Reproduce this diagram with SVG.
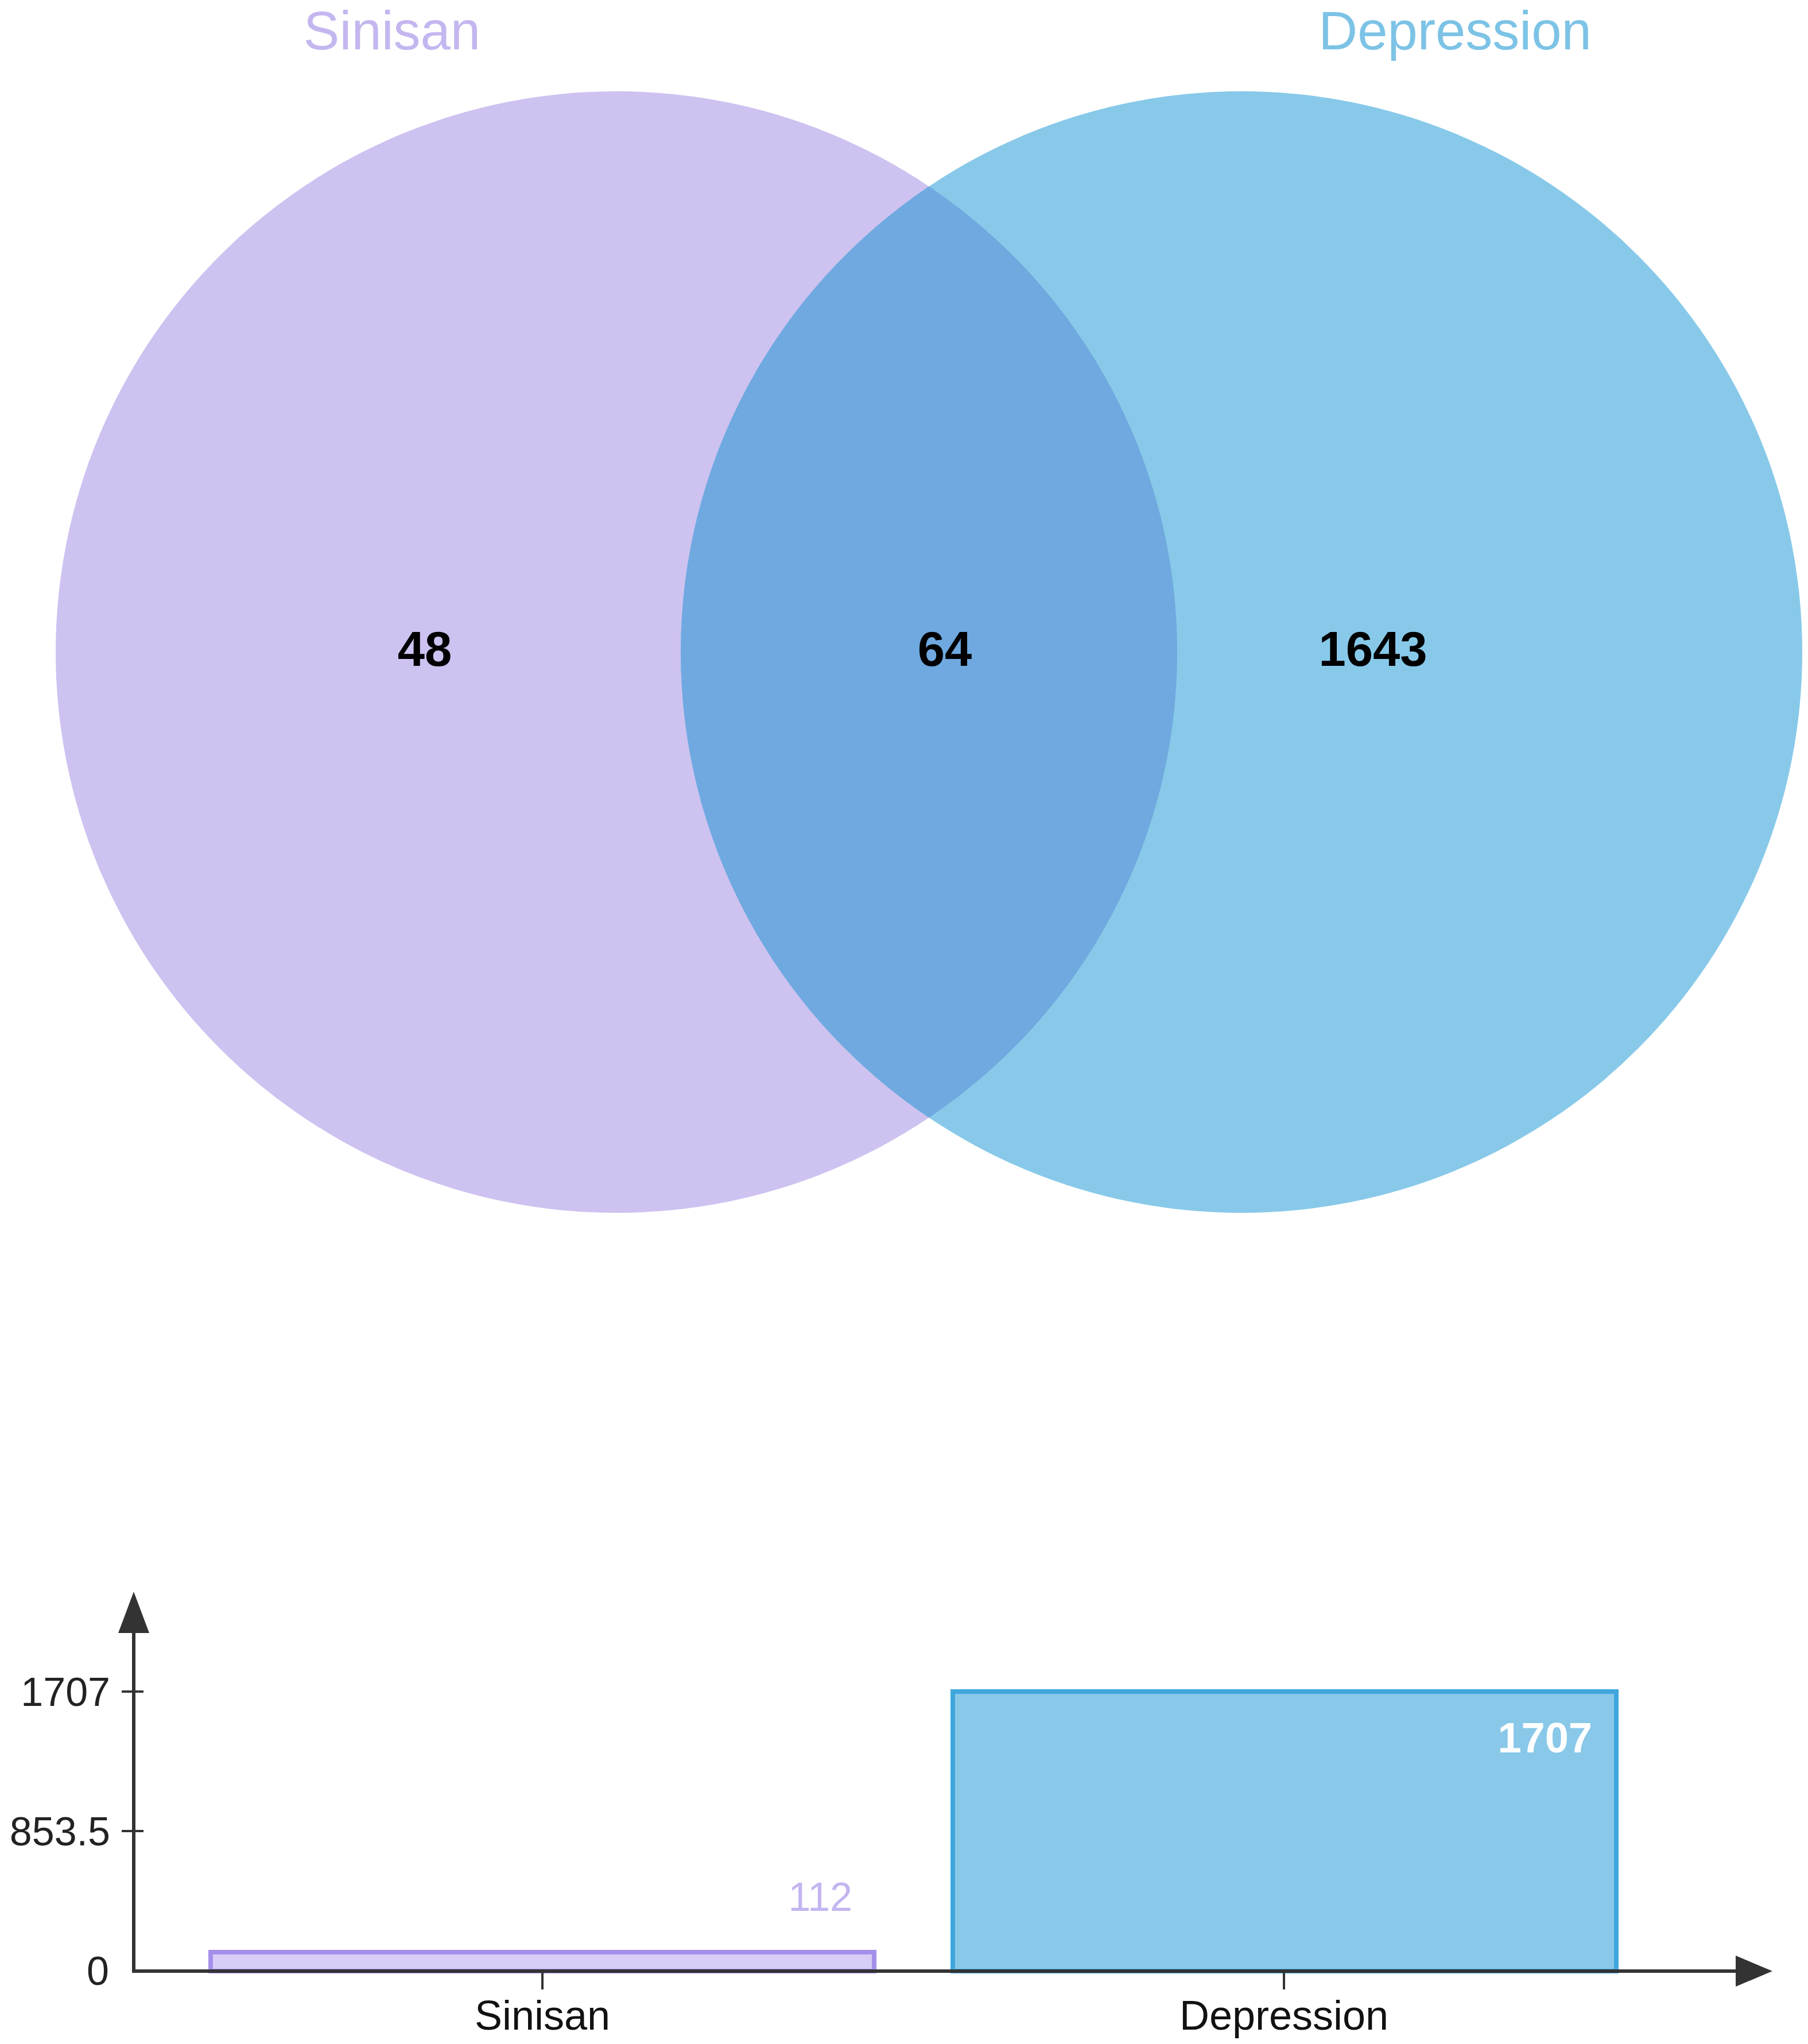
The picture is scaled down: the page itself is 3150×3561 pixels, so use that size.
<svg xmlns="http://www.w3.org/2000/svg" width="3150" height="3561" viewBox="0 0 3150 3561">
<defs>
<style>
.t{font-family:"Liberation Sans",Arial,sans-serif}
.num{font-size:85px;font-weight:bold;fill:#000;text-anchor:middle}
.ax{stroke:#333;stroke-width:6;fill:none}
.head{fill:#333}
.tick{stroke:#333;stroke-width:4}
.ylab{font-size:70px;fill:#222;text-anchor:end}
.xlab{font-size:72px;fill:#111;text-anchor:middle}
</style>
</defs>
<rect width="3150" height="3561" fill="#fff"/>
<g id="venn">
<g id="set-sinisan">
<circle cx="1074" cy="1136" r="977" fill="#cdc2f0"/>
<text class="t" x="683" y="86" font-size="94" fill="#c4b7ef" text-anchor="middle">Sinisan</text>
</g>
<g id="set-depression">
<circle cx="2163" cy="1136" r="977" fill="#88c9e9"/>
<text class="t" x="2535" y="86" font-size="94" fill="#7cc3e6" text-anchor="middle">Depression</text>
</g>
<g id="overlap">
<path d="M1618.5,324.8 A977,977 0 0 1 1618.5,1947.2 A977,977 0 0 1 1618.5,324.8 Z" fill="#6fa9e0"/>
</g>
<g id="counts">
<text class="t num" x="740" y="1160">48</text>
<text class="t num" x="1646" y="1160">64</text>
<text class="t num" x="2392" y="1160">1643</text>
</g>
</g>
<g id="bars">
<g id="bar-sinisan">
<rect x="367" y="3401" width="1156" height="33" fill="#d7cdf6" stroke="#a48fea" stroke-width="8"/>
<text class="t" x="1485" y="3329" font-size="70" fill="#c4b5f0" text-anchor="end">112</text>
</g>
<g id="bar-depression">
<rect x="1660" y="2947" width="1156" height="487" fill="#89c8e9" stroke="#40a7dd" stroke-width="8"/>
<text class="t" x="2774" y="3053" font-size="74" font-weight="bold" fill="#fff" text-anchor="end">1707</text>
</g>
</g>
<g id="axes">
<line class="ax" x1="233" y1="3437" x2="233" y2="2840"/>
<polygon class="head" points="233,2773 260,2845 206,2845"/>
<line class="ax" x1="230" y1="3434" x2="3030" y2="3434"/>
<polygon class="head" points="3088,3434 3024,3461 3024,3407"/>
<line class="tick" x1="212" y1="2947" x2="250" y2="2947"/>
<line class="tick" x1="212" y1="3190" x2="250" y2="3190"/>
<line class="tick" x1="945" y1="3434" x2="945" y2="3466"/>
<line class="tick" x1="2237" y1="3434" x2="2237" y2="3466"/>
<text class="t ylab" x="192" y="2972">1707</text>
<text class="t ylab" x="192" y="3215">853.5</text>
<text class="t ylab" x="190" y="3458">0</text>
<text class="t xlab" x="945" y="3536">Sinisan</text>
<text class="t xlab" x="2237" y="3536">Depression</text>
</g>
</svg>
